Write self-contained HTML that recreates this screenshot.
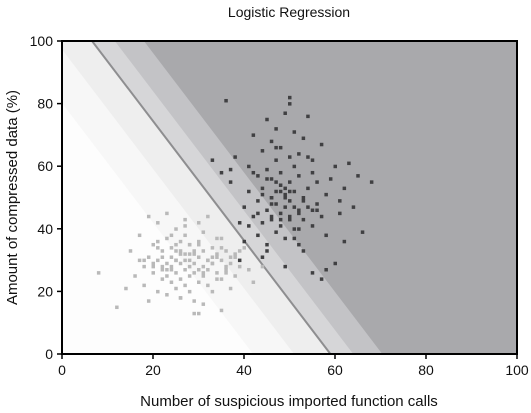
<!DOCTYPE html>
<html><head><meta charset="utf-8"><style>
body{margin:0;background:#fff;}
svg{display:block;font-family:"Liberation Sans",sans-serif;}
</style></head><body>
<svg id="chart" width="531" height="413"></svg>
<script>
const xTicks=[0,20,40,60,80,100];
const yTicks=[0,20,40,60,80,100];
// decision bands: contour values of c = x + 0.524*y
const bandEdges=[42,51,59,64,70.4];
const bandColors=['#fdfdfd','#f7f7f7','#eeeeee','#d6d6d8','#c3c3c6','#a9a9ac'];
const boundaryC=59;
const slopeY=0.524;
const benignX=[8,12,14,15,16,17,18,18,19,19,20,20,21,21,21,22,22,22,23,23,23,24,24,24,24,25,25,25,25,26,26,26,26,27,27,27,27,28,28,28,28,28,29,29,29,29,30,30,30,30,31,31,31,31,32,32,32,33,33,33,34,34,34,35,35,35,36,36,37,37,38,38,39,40,41,42,19,23,27,30,25,33,36,21,28,26,31,24,29,34,22,17,35,38,20,27,32,30,26,23,44,39,18,22,25,29,33,37,24,27,31,35,20,26,30,34,28,23,32,36,21,25];
const benignY=[26,15,21,33,25,38,28,22,31,17,35,26,42,30,20,33,24,28,37,29,19,34,27,23,31,40,26,33,21,29,36,24,18,32,27,38,22,30,25,35,20,28,33,26,29,17,31,36,23,13,28,33,25,39,30,22,27,34,29,20,32,26,37,30,24,14,33,27,29,21,31,25,28,34,27,23,44,45,41,42,30,31,26,36,35,18,16,38,13,24,31,30,37,32,28,43,44,35,32,27,28,33,30,27,35,32,29,31,28,30,26,34,29,33,27,31,32,25,30,28,34,30];
const malX=[33,35,36,37,38,39,40,40,41,41,42,42,43,43,43,44,44,44,45,45,45,45,46,46,46,46,47,47,47,47,48,48,48,48,48,49,49,49,49,50,50,50,50,50,51,51,51,51,52,52,52,52,53,53,53,54,54,54,55,55,55,56,56,57,57,58,58,59,60,61,62,63,64,65,66,68,42,47,50,53,56,44,49,46,51,55,39,41,45,58,61,48,52,37,43,54,60,57,62,50,47,45,46,49,52,48,51,47,50,53,44,55,49,46];
const malY=[62,58,81,55,63,42,47,36,52,60,44,70,38,57,49,65,42,53,75,46,59,35,68,50,43,56,39,62,48,72,54,45,66,41,58,51,37,77,47,63,44,55,82,49,40,60,52,71,46,57,35,64,50,43,69,53,47,76,58,41,62,48,55,44,67,51,38,56,60,45,53,61,47,57,39,55,58,52,80,33,46,31,28,50,37,26,30,41,33,27,49,43,40,59,45,63,29,24,36,52,66,56,48,50,45,52,47,55,43,49,51,46,53,44];
const W=531,H=413,L=62,R=517,T=41,B=354;
const sx=v=>L+(v/100)*(R-L);
const sy=v=>B-(v/100)*(B-T);
const NS='http://www.w3.org/2000/svg';
const svg=document.getElementById('chart');
function mk(tag,attrs,parent){const e=document.createElementNS(NS,tag);for(const k in attrs)e.setAttribute(k,attrs[k]);(parent||svg).appendChild(e);return e;}
const defs=mk('defs',{});
const cp=mk('clipPath',{id:'pc'},defs);mk('rect',{x:L,y:T,width:R-L,height:B-T},cp);
const g=mk('g',{'clip-path':'url(#pc)'});


mk('rect',{x:L,y:T,width:R-L,height:B-T,fill:bandColors[0]},g);
function regionPoly(c){
  const xt=c-slopeY*100, xb=c;
  return `${sx(xt)},${sy(100)} ${sx(200)},${sy(100)} ${sx(200)},${sy(0)} ${sx(xb)},${sy(0)}`;
}
bandEdges.forEach((c,i)=>{
  const p=mk('polygon',{points:regionPoly(c),fill:bandColors[i+1]},g);
  
  
});
const bl=mk('line',{x1:sx(boundaryC-slopeY*100),y1:sy(100),x2:sx(boundaryC),y2:sy(0),stroke:'#8e8e90','stroke-width':2},g);


benignX.forEach((x,i)=>{
  const r=mk('rect',{x:sx(x)-1.5,y:sy(benignY[i])-1.5,width:3.5,height:3.5,fill:'#b9b9b9'},g);
  
  
});
malX.forEach((x,i)=>{
  const r=mk('rect',{x:sx(x)-1.5,y:sy(malY[i])-1.5,width:3.5,height:3.5,fill:'#404042'},g);
  
  
});
const ax=mk('path',{d:`M${L},${T} V${B} H${R} V${T} Z`,fill:'none',stroke:'#000','stroke-width':2});


xTicks.forEach(v=>{
  mk('line',{x1:sx(v),y1:B,x2:sx(v),y2:B+5,stroke:'#000','stroke-width':1.5});
  const t=mk('text',{x:sx(v),y:B+21,'text-anchor':'middle','font-size':14,fill:'#111'});
  t.textContent=v;
  
  
});
yTicks.forEach(v=>{
  mk('line',{x1:L-5,y1:sy(v),x2:L,y2:sy(v),stroke:'#000','stroke-width':1.5});
  const t=mk('text',{x:L-9,y:sy(v)+5,'text-anchor':'end','font-size':14,fill:'#111'});
  t.textContent=v;
  
  
});
const title=mk('text',{x:289,y:17,'text-anchor':'middle','font-size':14,fill:'#111'});
title.textContent='Logistic Regression';


const xl=mk('text',{x:289,y:406,'text-anchor':'middle','font-size':15,fill:'#111'});
xl.textContent='Number of suspicious imported function calls';


const yl=mk('text',{x:0,y:0,'text-anchor':'middle','font-size':15,fill:'#111',transform:`translate(17,${(T+B)/2}) rotate(-90)`});
yl.textContent='Amount of compressed data (%)';


</script>
</body></html>
